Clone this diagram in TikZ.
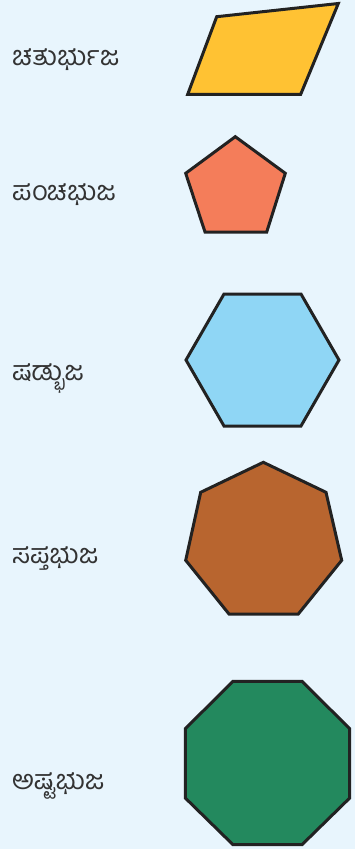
\documentclass[tikz,border=0pt]{standalone}
\usepackage{fontspec}
\newfontfamily\kn[Script=Kannada]{Hind Mysuru}
\definecolor{bg}{HTML}{E8F5FD}
\definecolor{edge}{HTML}{222222}
\definecolor{txt}{HTML}{333333}
\definecolor{cquad}{HTML}{FFC233}
\definecolor{cpent}{HTML}{F47D5A}
\definecolor{chex}{HTML}{8FD6F5}
\definecolor{chept}{HTML}{B8652F}
\definecolor{coct}{HTML}{23895E}
\begin{document}
\begin{tikzpicture}[x=1pt,y=-1pt,
  poly/.style={draw=edge,line width=3pt,line join=miter},
  lbl/.style={anchor=west,inner sep=0pt,text=txt,font=\kn\fontsize{27}{30}\selectfont}]
\fill[bg] (0,0) rectangle (355,849);
\useasboundingbox (0,0) rectangle (355,849);
% labels
\node[lbl] (l1) at (12,60) {ಚತುರ್ಭುಜ};
\node[lbl] (l2) at (12,195) {ಪಂಚಭುಜ};
\node[lbl] (l3) at (12,378) {ಷಡ್ಭುಜ};
\node[lbl] (l4) at (12,558) {ಸಪ್ತಭುಜ};
\node[lbl] (l5) at (12,786) {ಅಷ್ಟಭುಜ};
% shapes
\draw[poly,fill=cquad] (216.7,16.7) -- (338.3,3.5) -- (300.7,94.3) -- (187.7,94.3) -- cycle;
\draw[poly,fill=cpent] (235.3,136.7) -- (285.3,173.3) -- (266.7,232) -- (205,232) -- (185.7,173.3) -- cycle;
\draw[poly,fill=chex] (224,294) -- (301,294) -- (339,360) -- (301,426) -- (224,426) -- (186,360) -- cycle;
\draw[poly,fill=chept] (263.3,462.3) -- (326,492.3) -- (341.7,560.3) -- (298.3,614) -- (229,614) -- (185.7,560.3) -- (200.7,492.3) -- cycle;
\draw[poly,fill=coct] (233,681.3) -- (302,681.3) -- (349.7,728.7) -- (349.7,798) -- (302,844.7) -- (233,844.7) -- (185.3,798) -- (185.3,728.7) -- cycle;
\end{tikzpicture}
\end{document}
